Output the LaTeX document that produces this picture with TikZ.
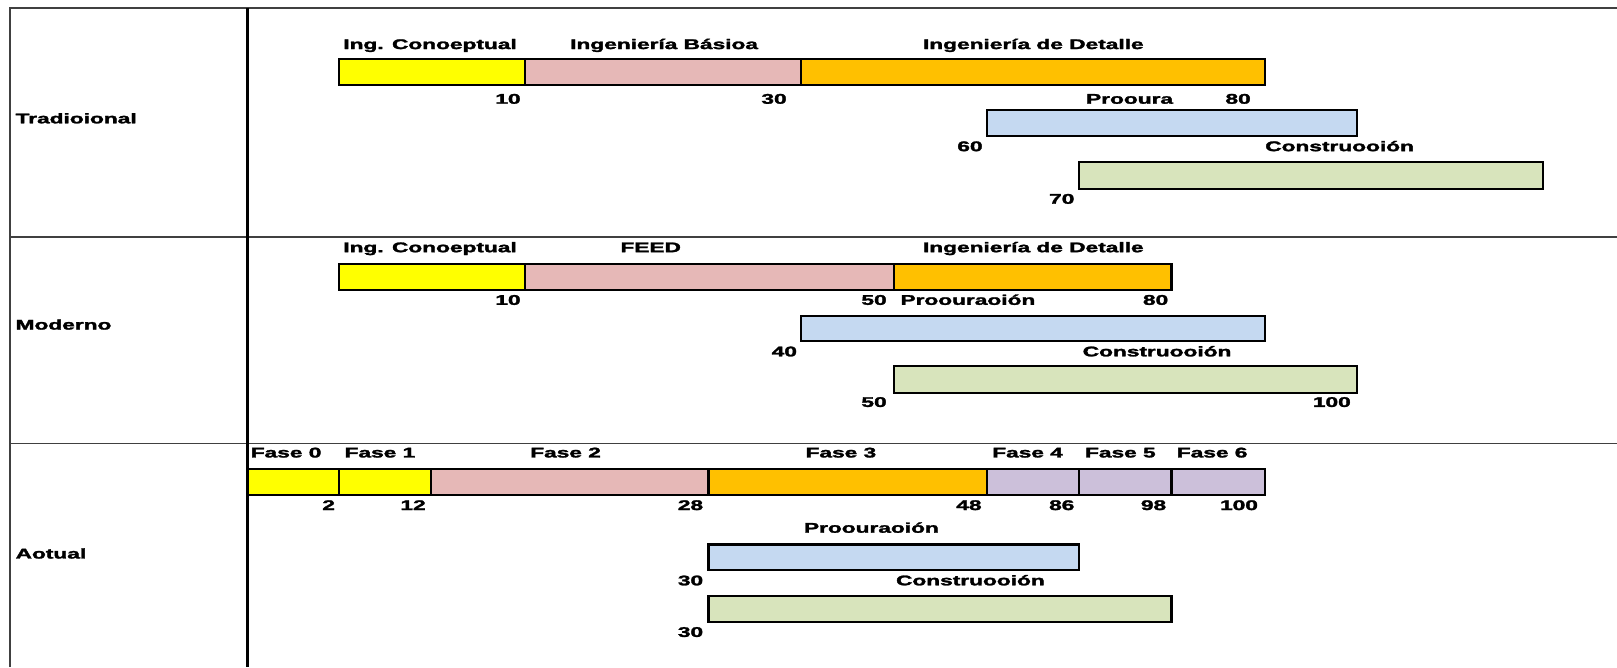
\documentclass[tikz,border=0pt]{standalone}
\usepackage{fontspec}
\setmainfont{Liberation Sans}[BoldFeatures={FakeBold=1.8}]
\usepackage{graphicx}
\usetikzlibrary{fit}
\definecolor{cyel}{HTML}{FFFF00}
\definecolor{cpink}{HTML}{E6B8B7}
\definecolor{corange}{HTML}{FFC000}
\definecolor{cblue}{HTML}{C5D9F1}
\definecolor{cgreen}{HTML}{D8E4BC}
\definecolor{cpurple}{HTML}{CCC0DA}
\newcommand\tx[1]{\scalebox{1.62}[1]{#1}}
\newcommand\gbar[6]{\node[barbox, fill=#6, fit={(#2,#3) (#4,#5)}] (#1) {};}
\begin{document}
\begin{tikzpicture}[x=1.03125pt,y=-1.03125pt,
  lbl/.style={inner sep=0pt, font=\fontsize{14}{16}\selectfont\bfseries},
  barbox/.style={draw=black, line width=2.1pt, inner sep=0pt},
  frameline/.style={draw=black!75, line width=1.8pt}]
\fill[white] (0,0) rectangle (1568,647);
\useasboundingbox (0,0) rectangle (1568,647);
% frame
\draw[frameline] (10,647) -- (10,8) -- (1568,8);
\draw[frameline] (10,230) -- (1568,230);
\draw[frameline] (10,430) -- (1568,430);
\draw[line width=2.8pt] (240,8) -- (240,647);
% row labels
\node[lbl, anchor=mid west] (rTrad) at (15,117) {\tx{Tradioional}};
\node[lbl, anchor=mid west] (rMod) at (15,317) {\tx{Moderno}};
\node[lbl, anchor=mid west] (rAct) at (15,539) {\tx{Aotual}};
% ---------- Tradicional
\gbar{t1}{329}{57}{509}{82}{cyel}
\gbar{t2}{509}{57}{777}{82}{cpink}
\gbar{t3}{777}{57}{1227}{82}{corange}
\gbar{tp}{957}{107}{1316}{132}{cblue}
\gbar{tc}{1046}{157}{1496}{183}{cgreen}
\node[lbl, anchor=mid] (tl1) at (417,45) {\tx{Ing. Conoeptual}};
\node[lbl, anchor=mid] (tl2) at (644,45) {\tx{Ingeniería Básioa}};
\node[lbl, anchor=mid] (tl3) at (1002,45) {\tx{Ingeniería de Detalle}};
\node[lbl, anchor=mid east] (tn10) at (505,98) {\tx{10}};
\node[lbl, anchor=mid east] (tn30) at (763,98) {\tx{30}};
\node[lbl, anchor=mid west] (tpl) at (1053,98) {\tx{Prooura}};
\node[lbl, anchor=mid east] (tn80) at (1213,98) {\tx{80}};
\node[lbl, anchor=mid east] (tn60) at (953,144) {\tx{60}};
\node[lbl, anchor=mid] (tcl) at (1299,144) {\tx{Construooión}};
\node[lbl, anchor=mid east] (tn70) at (1042,195) {\tx{70}};
% ---------- Moderno
\gbar{m1}{329}{256}{509}{281}{cyel}
\gbar{m2}{509}{256}{867}{281}{cpink}
\gbar{m3}{867}{256}{1136}{281}{corange}
\gbar{mp}{777}{306}{1227}{331}{cblue}
\gbar{mc}{867}{355}{1316}{381}{cgreen}
\node[lbl, anchor=mid] (ml1) at (417,242) {\tx{Ing. Conoeptual}};
\node[lbl, anchor=mid] (ml2) at (631,242) {\tx{FEED}};
\node[lbl, anchor=mid] (ml3) at (1002,242) {\tx{Ingeniería de Detalle}};
\node[lbl, anchor=mid east] (mn10) at (505,293) {\tx{10}};
\node[lbl, anchor=mid east] (mn50) at (860,293) {\tx{50}};
\node[lbl, anchor=mid west] (mpl) at (873,293) {\tx{Proouraoión}};
\node[lbl, anchor=mid east] (mn80) at (1133,293) {\tx{80}};
\node[lbl, anchor=mid east] (mn40) at (773,343) {\tx{40}};
\node[lbl, anchor=mid] (mcl) at (1122,343) {\tx{Construooión}};
\node[lbl, anchor=mid east] (mn50b) at (860,392) {\tx{50}};
\node[lbl, anchor=mid east] (mn100) at (1310,392) {\tx{100}};
% ---------- Actual
\gbar{a0}{240}{455}{329}{480}{cyel}
\gbar{a1}{329}{455}{418}{480}{cyel}
\gbar{a2}{418}{455}{687}{480}{cpink}
\gbar{a3}{687}{455}{957}{480}{corange}
\gbar{a4}{957}{455}{1046}{480}{cpurple}
\gbar{a5}{1046}{455}{1136}{480}{cpurple}
\gbar{a6}{1136}{455}{1227}{480}{cpurple}
\gbar{ap}{687}{528}{1046}{553}{cblue}
\gbar{ac}{687}{578}{1136}{603}{cgreen}
\node[lbl, anchor=mid west] (al0) at (243,441) {\tx{Fase 0}};
\node[lbl, anchor=mid west] (al1) at (334,441) {\tx{Fase 1}};
\node[lbl, anchor=mid west] (al2) at (514,441) {\tx{Fase 2}};
\node[lbl, anchor=mid west] (al3) at (781,441) {\tx{Fase 3}};
\node[lbl, anchor=mid west] (al4) at (962,441) {\tx{Fase 4}};
\node[lbl, anchor=mid west] (al5) at (1052,441) {\tx{Fase 5}};
\node[lbl, anchor=mid west] (al6) at (1141,441) {\tx{Fase 6}};
\node[lbl, anchor=mid east] (an2) at (325,492) {\tx{2}};
\node[lbl, anchor=mid east] (an12) at (413,492) {\tx{12}};
\node[lbl, anchor=mid east] (an28) at (682,492) {\tx{28}};
\node[lbl, anchor=mid east] (an48) at (952,492) {\tx{48}};
\node[lbl, anchor=mid east] (an86) at (1042,492) {\tx{86}};
\node[lbl, anchor=mid east] (an98) at (1131,492) {\tx{98}};
\node[lbl, anchor=mid east] (an100) at (1220,492) {\tx{100}};
\node[lbl, anchor=mid] (apl) at (845,514) {\tx{Proouraoión}};
\node[lbl, anchor=mid east] (an30a) at (682,565) {\tx{30}};
\node[lbl, anchor=mid] (acl) at (941,565) {\tx{Construooión}};
\node[lbl, anchor=mid east] (an30b) at (682,615) {\tx{30}};
\end{tikzpicture}
\end{document}
